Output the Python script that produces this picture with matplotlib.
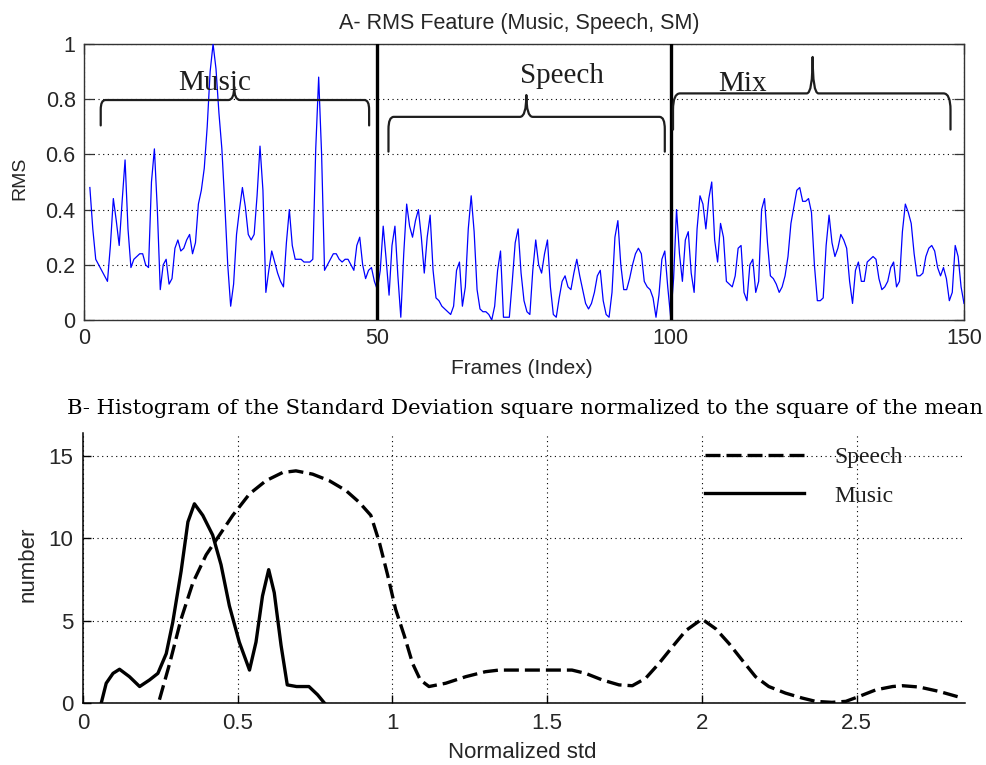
import numpy as np
import matplotlib
matplotlib.use("Agg")
import matplotlib.pyplot as plt
from matplotlib.path import Path
from matplotlib.patches import PathPatch

# ---------------- Panel A data: RMS per frame (half-frame resolution) ----------------
frame_step = 0.5
rms_music = [
    0.48, 0.33, 0.22, 0.20, 0.18, 0.16, 0.14, 0.27, 0.44, 0.36,
    0.27, 0.43, 0.58, 0.33, 0.19, 0.22, 0.23, 0.24, 0.24, 0.20,
    0.19, 0.50, 0.62, 0.40, 0.11, 0.20, 0.22, 0.13, 0.15, 0.26,
    0.29, 0.25, 0.26, 0.29, 0.31, 0.24, 0.28, 0.42, 0.47, 0.55,
    0.70, 0.90, 1.00, 0.91, 0.75, 0.62, 0.42, 0.20, 0.05, 0.13,
    0.31, 0.40, 0.48, 0.41, 0.31, 0.29, 0.31, 0.45, 0.63, 0.47,
    0.10, 0.18, 0.25, 0.21, 0.17, 0.14, 0.12, 0.28, 0.40, 0.27,
    0.22, 0.22, 0.22, 0.21, 0.21, 0.21, 0.22, 0.62, 0.88, 0.60,
    0.18, 0.20, 0.22, 0.24, 0.24, 0.22, 0.21, 0.22, 0.22, 0.20,
    0.18, 0.27, 0.30, 0.20, 0.15, 0.18, 0.19, 0.14, 0.11,
]
rms_speech = [
    0.18, 0.34, 0.22, 0.09, 0.27, 0.34, 0.16, 0.01, 0.24, 0.42,
    0.34, 0.30, 0.36, 0.40, 0.30, 0.17, 0.30, 0.38, 0.18, 0.08,
    0.07, 0.05, 0.04, 0.03, 0.02, 0.05, 0.18, 0.21, 0.05, 0.12,
    0.33, 0.45, 0.32, 0.11, 0.04, 0.03, 0.03, 0.02, 0.00, 0.05,
    0.18, 0.25, 0.01, 0.01, 0.01, 0.14, 0.28, 0.33, 0.17, 0.07,
    0.03, 0.02, 0.18, 0.29, 0.20, 0.17, 0.24, 0.29, 0.12, 0.02,
    0.01, 0.08, 0.14, 0.16, 0.12, 0.11, 0.17, 0.22, 0.16, 0.11,
    0.06, 0.04, 0.06, 0.10, 0.16, 0.18, 0.07, 0.02, 0.01, 0.10,
    0.30, 0.36, 0.20, 0.11, 0.11, 0.15, 0.20, 0.24, 0.26, 0.24,
    0.14, 0.12, 0.11, 0.08, 0.01, 0.09, 0.22, 0.25, 0.12, 0.01,
]
rms_mix = [
    0.15, 0.40, 0.24, 0.14, 0.29, 0.32, 0.17, 0.10, 0.33, 0.45,
    0.42, 0.33, 0.44, 0.50, 0.29, 0.21, 0.35, 0.30, 0.14, 0.13,
    0.12, 0.16, 0.26, 0.27, 0.10, 0.07, 0.20, 0.22, 0.10, 0.14,
    0.40, 0.44, 0.28, 0.16, 0.15, 0.13, 0.10, 0.12, 0.16, 0.23,
    0.35, 0.41, 0.47, 0.48, 0.43, 0.43, 0.44, 0.39, 0.20, 0.07,
    0.07, 0.08, 0.27, 0.38, 0.28, 0.23, 0.26, 0.31, 0.29, 0.26,
    0.14, 0.06, 0.18, 0.21, 0.14, 0.14, 0.21, 0.22, 0.23, 0.22,
    0.15, 0.11, 0.12, 0.14, 0.19, 0.21, 0.12, 0.14, 0.32, 0.42,
    0.39, 0.35, 0.24, 0.16, 0.16, 0.17, 0.23, 0.26, 0.27, 0.25,
    0.19, 0.16, 0.19, 0.15, 0.07, 0.10, 0.27, 0.23, 0.12, 0.06,
]
segment_bounds = [50, 100]
segment_names = ["Music", "Speech", "Mix"]
frame_ticks = [0, 50, 100, 150]
rms_ticks = [0, 0.2, 0.4, 0.6, 0.8, 1.0]
rms_tick_labels = ["0", "0.2", "0.4", "0.6", "0.8", "1"]

# ---------------- Panel B data: smoothed histograms ----------------
music_std = [0.059, 0.075, 0.097, 0.118, 0.15, 0.183, 0.215, 0.242, 0.269, 0.29,
             0.317, 0.339, 0.36, 0.387, 0.419, 0.446, 0.473, 0.505, 0.538, 0.559,
             0.58, 0.60, 0.618, 0.64, 0.66, 0.69, 0.73, 0.758, 0.78]
music_count = [0, 1.2, 1.8, 2.05, 1.6, 1.0, 1.4, 1.8, 3.0, 4.9,
               8.0, 11.0, 12.1, 11.4, 10.2, 8.4, 5.9, 3.7, 2.0, 3.7,
               6.5, 8.1, 6.7, 3.5, 1.1, 1.0, 1.0, 0.5, 0]
speech_std = [0.247, 0.28, 0.317, 0.355, 0.398, 0.441, 0.484, 0.538, 0.591, 0.645,
              0.688, 0.742, 0.796, 0.85, 0.892, 0.93, 0.957, 0.984, 1.01, 1.038,
              1.065, 1.09, 1.118, 1.172, 1.237, 1.30, 1.344, 1.387, 1.5, 1.58,
              1.624, 1.678, 1.732, 1.775, 1.818, 1.861, 1.904, 1.948, 2.0, 2.045,
              2.088, 2.13, 2.173, 2.216, 2.27, 2.324, 2.367, 2.42, 2.465, 2.508,
              2.562, 2.616, 2.648, 2.702, 2.767, 2.842]
speech_count = [0.2, 2.4, 5.1, 7.3, 9.0, 10.2, 11.4, 12.7, 13.5, 14.0,
                14.1, 13.9, 13.5, 12.9, 12.2, 11.4, 9.8, 7.8, 5.7, 4.1,
                2.4, 1.4, 1.0, 1.2, 1.6, 1.9, 2.0, 2.0, 2.0, 2.0,
                1.8, 1.4, 1.1, 1.05, 1.5, 2.4, 3.4, 4.4, 5.1, 4.5,
                3.6, 2.6, 1.6, 1.0, 0.6, 0.3, 0.1, 0.04, 0.1, 0.4,
                0.8, 1.0, 1.05, 0.97, 0.7, 0.3]
std_ticks = [0, 0.5, 1, 1.5, 2, 2.5]
std_tick_labels = ["0", "0.5", "1", "1.5", "2", "2.5"]
count_ticks = [0, 5, 10, 15]

# ---------------- figure ----------------
W, H, DPI = 987, 765, 100
fig = plt.figure(figsize=(W / DPI, H / DPI), dpi=DPI)
fig.patch.set_facecolor("white")

SANS = "Liberation Sans"
SERIF = "Liberation Serif"
TXT = "#262626"

def px_rect(left, top, right, bottom):
    return [left / W, 1 - bottom / H, (right - left) / W, (bottom - top) / H]

grid_kw = dict(color="black", linestyle=(0, (1, 3.2)), linewidth=0.8)

# ---------------- Panel A ----------------
axA = fig.add_axes(px_rect(84, 44, 964, 320))
rms = np.array(rms_music + rms_speech + rms_mix)
frames = 1 + frame_step * np.arange(len(rms))
axA.plot(frames, rms, color="#0000ff", linewidth=0.9, zorder=3)
for b in segment_bounds:
    axA.axvline(b, color="black", linewidth=2.4, zorder=4)

axA.set_xlim(0, 150)
axA.set_ylim(0, 1)
axA.set_xticks(frame_ticks)
axA.set_yticks(rms_ticks)
axA.set_yticklabels(rms_tick_labels)
axA.grid(True, **grid_kw)
axA.set_axisbelow(True)
axA.tick_params(direction="in", length=7, width=0.9, top=True, right=True,
                labelsize=15.5, labelcolor=TXT, pad=6, color="#333333")
for lab in axA.get_xticklabels() + axA.get_yticklabels():
    lab.set_fontfamily(SANS)
for s in axA.spines.values():
    s.set_color("#333333")
    s.set_linewidth(1.0)

# curly braces marking each segment
braces = [
    dict(x0=2.85, x1=48.6, y=0.797, foot=0.705, tip=25.6, tip_y=0.845,
         rx=0.8, ry=0.035, cw=1.0, lx=22.3, ly=0.835),
    dict(x0=51.9, x1=99.0, y=0.736, foot=0.61, tip=75.4, tip_y=0.815,
         rx=0.9, ry=0.045, cw=1.1, lx=81.4, ly=0.858),
    dict(x0=100.4, x1=147.7, y=0.821, foot=0.69, tip=124.2, tip_y=0.953,
         rx=1.2, ry=0.06, cw=1.0, lx=112.2, ly=0.83),
]
for name, b in zip(segment_names, braces):
    verts = [(b["x0"], b["foot"]), (b["x0"], b["y"] - b["ry"]),
             (b["x0"], b["y"]), (b["x0"] + b["rx"], b["y"]),
             (b["tip"] - b["cw"], b["y"]),
             (b["tip"], b["y"]), (b["tip"], b["tip_y"]),
             (b["tip"], b["y"]), (b["tip"] + b["cw"], b["y"]),
             (b["x1"] - b["rx"], b["y"]),
             (b["x1"], b["y"]), (b["x1"], b["y"] - b["ry"]),
             (b["x1"], b["foot"])]
    codes = [Path.MOVETO, Path.LINETO, Path.CURVE3, Path.CURVE3, Path.LINETO,
             Path.CURVE3, Path.CURVE3, Path.CURVE3, Path.CURVE3, Path.LINETO,
             Path.CURVE3, Path.CURVE3, Path.LINETO]
    axA.add_patch(PathPatch(Path(verts, codes), facecolor="none",
                            edgecolor="#1e1e1e", linewidth=1.6, zorder=5,
                            capstyle="round", joinstyle="round"))
    axA.text(b["lx"], b["ly"], name, family=SERIF, fontsize=21, color="#1e1e1e",
             ha="center", va="baseline", zorder=6)

fig.text(0.526, 1 - 29 / H, "A- RMS Feature (Music, Speech, SM)", family=SANS,
         fontsize=15.5, color=TXT, ha="center", va="baseline")
fig.text(522 / W, 1 - 374 / H, "Frames (Index)", family=SANS, fontsize=15,
         color=TXT, ha="center", va="baseline")
fig.text(19.5 / W, 1 - 178 / H, "RMS", family=SANS, fontsize=14, color=TXT,
         ha="center", va="center", rotation=90)

# ---------------- Panel B ----------------
axB = fig.add_axes(px_rect(83, 433, 965, 703))
axB.plot(speech_std, speech_count, color="black", linewidth=2.4,
         linestyle=(0, (4.5, 1.8)), label="Speech", zorder=3)
axB.plot(music_std, music_count, color="black", linewidth=2.4,
         label="Music", zorder=3)
axB.set_xlim(0, 2.85)
axB.set_ylim(0, 16.4)
axB.set_xticks(std_ticks)
axB.set_xticklabels(std_tick_labels)
axB.set_yticks(count_ticks)
axB.grid(True, **grid_kw)
axB.set_axisbelow(True)
axB.tick_params(direction="in", length=6, width=1.0, labelsize=16,
                labelcolor=TXT, pad=7)
for lab in axB.get_xticklabels() + axB.get_yticklabels():
    lab.set_fontfamily(SANS)
for side in ("top", "right"):
    axB.spines[side].set_visible(False)
for side in ("left", "bottom"):
    axB.spines[side].set_color("black")
    axB.spines[side].set_linewidth(1.1)

leg = axB.legend(loc="upper left", bbox_to_anchor=(0.705, 0.95),
                 frameon=False, prop=dict(family=SERIF, size=17),
                 handlelength=4.2, handletextpad=1.3, labelspacing=0.72,
                 borderpad=0, borderaxespad=0)
for t in leg.get_texts():
    t.set_color("#1e1e1e")

fig.text(525 / W, 1 - 414 / H,
         "B- Histogram of the Standard Deviation square normalized to the square of the mean",
         family="DejaVu Serif", fontsize=15.2, color="black",
         ha="center", va="baseline")
fig.text(522 / W, 1 - 758 / H, "Normalized std", family=SANS, fontsize=16,
         color=TXT, ha="center", va="baseline")
fig.text(28 / W, 1 - 564 / H, "number", family=SANS, fontsize=16, color=TXT,
         ha="center", va="center", rotation=90)

fig.savefig("out.png", dpi=DPI, facecolor="white")
